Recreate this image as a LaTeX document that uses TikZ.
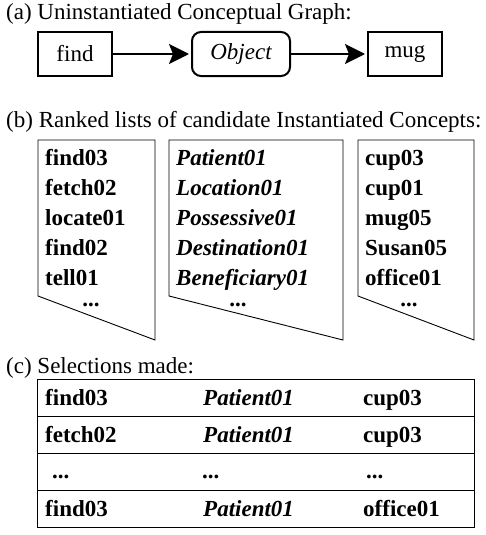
\documentclass[tikz,border=0pt]{standalone}
\usepackage{fontspec}
\setmainfont{Liberation Serif}
\usetikzlibrary{arrows.meta}
\begin{document}
\begin{tikzpicture}[x=1pt,y=-1pt,
  every node/.style={font=\fontsize{23}{28}\selectfont, inner sep=0pt},
  captext/.style={anchor=base west},
  item/.style={anchor=base west, font=\fontsize{23}{28}\selectfont\bfseries},
  itemi/.style={anchor=base west, font=\fontsize{23}{28}\selectfont\bfseries\itshape},
  dotsitem/.style={anchor=base, font=\fontsize{23}{28}\selectfont\bfseries},
  cbox/.style={draw, line width=2pt, minimum height=44pt},
  flow/.style={line width=2pt, shorten >=2pt, -{Stealth[length=20pt,width=20pt,inset=4pt]}},
  listshape/.style={draw, line width=0.9pt},
  tbl/.style={draw, line width=0.9pt}]
\useasboundingbox (0,0) rectangle (485,535);

% (a)
\node[captext] (capa) at (6,20) {(a) Uninstantiated Conceptual Graph:};
\node[cbox, minimum width=74pt] (find) at (75,54) {find};
\node[cbox, minimum width=98pt, rounded corners=9pt] (obj) at (241,54) {\itshape Object};
\node[cbox, minimum width=74pt] (mug) at (405,54) {mug};
\draw[flow] (find) -- (obj);
\draw[flow] (obj) -- (mug);

% (b)
\node[captext] (capb) at (6,127) {(b) Ranked lists of candidate Instantiated Concepts:};
\draw[listshape] (38,140) -- (155,140) -- (155,340) -- (38,296) -- cycle;
\draw[listshape] (169,140) -- (343,140) -- (343,340) -- (169,296) -- cycle;
\draw[listshape] (358,140) -- (474,140) -- (474,340) -- (358,296) -- cycle;

\node[item] (l11) at (45,165) {find03};
\node[item] (l12) at (45,195) {fetch02};
\node[item] (l13) at (45,225) {locate01};
\node[item] (l14) at (45,255) {find02};
\node[item] (l15) at (45,285) {tell01};
\node[dotsitem] (l16) at (91,306) {...};

\node[itemi] (l21) at (176,165) {Patient01};
\node[itemi] (l22) at (176,195) {Location01};
\node[itemi] (l23) at (176,225) {Possessive01};
\node[itemi] (l24) at (176,255) {Destination01};
\node[itemi] (l25) at (176,285) {Beneficiary01};
\node[dotsitem] (l26) at (238,306) {...};

\node[item] (l31) at (365,165) {cup03};
\node[item] (l32) at (365,195) {cup01};
\node[item] (l33) at (365,225) {mug05};
\node[item] (l34) at (365,255) {Susan05};
\node[item] (l35) at (365,285) {office01};
\node[dotsitem] (l36) at (409,306) {...};

% (c)
\node[captext] (capc) at (6,373) {(c) Selections made:};
\draw[tbl] (37,379) rectangle (474,527);
\draw[tbl] (37,416) -- (474,416);
\draw[tbl] (37,453) -- (474,453);
\draw[tbl] (37,490) -- (474,490);

\node[item] (r11) at (45,405) {find03};
\node[itemi] (r12) at (203,405) {Patient01};
\node[item] (r13) at (363,405) {cup03};
\node[item] (r21) at (45,442) {fetch02};
\node[itemi] (r22) at (203,442) {Patient01};
\node[item] (r23) at (363,442) {cup03};
\node[item] (r31) at (52,478) {...};
\node[item] (r32) at (202,478) {...};
\node[item] (r33) at (366,478) {...};
\node[item] (r41) at (45,516) {find03};
\node[itemi] (r42) at (203,516) {Patient01};
\node[item] (r43) at (363,516) {office01};
\end{tikzpicture}
\end{document}
